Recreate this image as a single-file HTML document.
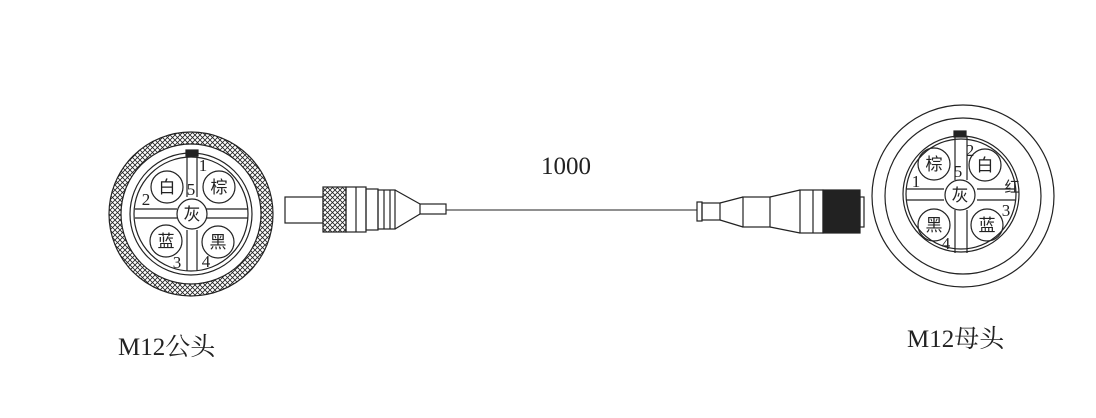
<!DOCTYPE html>
<html><head><style>body{margin:0;background:#fff}svg{display:block}</style></head><body>
<svg width="1096" height="418" viewBox="0 0 1096 418" xmlns="http://www.w3.org/2000/svg" font-family="Liberation Serif, Noto Serif CJK SC, serif">
<defs>
<pattern id="h" width="5" height="5" patternUnits="userSpaceOnUse">
<rect width="5" height="5" fill="#fff"/>
<path d="M0,0L5,5M5,0L0,5" stroke="#222" stroke-width="0.8"/>
</pattern>
</defs>
<g stroke="#222" stroke-width="1.2" fill="none">
<circle cx="191" cy="214" r="82" fill="url(#h)"/>
<circle cx="191" cy="214" r="70" fill="#fff"/>
<circle cx="191" cy="214" r="61"/>
<circle cx="191" cy="214" r="57"/>
<rect x="186" y="150" width="12" height="6" fill="#222"/>
<path d="M187,156V197M197,156V197M187,230V271M197,230V271"/>
<path d="M135,209H177M135,218H177M206,209H248M206,218H248"/>
<circle cx="192" cy="214" r="15" fill="#fff"/>
<circle cx="167" cy="187" r="16"/><circle cx="219" cy="187" r="16"/>
<circle cx="166" cy="241" r="16"/><circle cx="218" cy="242" r="16"/>
<rect x="285" y="197" width="38" height="26" fill="#fff"/>
<rect x="323" y="187" width="23" height="45" fill="url(#h)"/>
<rect x="346" y="187" width="20" height="45"/>
<path d="M356,187V232"/>
<rect x="366" y="189" width="12" height="41"/>
<rect x="378" y="190" width="17" height="39"/>
<path d="M384,190V229M390,190V229"/>
<path d="M395,190L420,204M395,229L420,214"/>
<rect x="420" y="204" width="26" height="10"/>
<path d="M446,210H697" stroke-width="1"/>
<rect x="697" y="202" width="5" height="19"/>
<rect x="702" y="203" width="18" height="17"/>
<path d="M720,203L743,197M720,220L743,227"/>
<rect x="743" y="197" width="27" height="30"/>
<path d="M770,197L800,190M770,227L800,233"/>
<rect x="800" y="190" width="23" height="43"/>
<path d="M813,190V233"/>
<rect x="823" y="190" width="37" height="43" fill="#222"/>
<rect x="860" y="197" width="4" height="30"/>
<circle cx="963" cy="196" r="91"/>
<circle cx="963" cy="196" r="78"/>
<circle cx="961" cy="194" r="58"/>
<circle cx="961" cy="194" r="55"/>
<rect x="954" y="131" width="12" height="6" fill="#222"/>
<path d="M955,137V180M967,137V180M955,210V253M967,210V253"/>
<path d="M906,189H944M906,200H944M977,189H1015M977,200H1015"/>
<circle cx="960" cy="195" r="15" fill="#fff"/>
<circle cx="934" cy="164" r="16"/><circle cx="985" cy="165" r="16"/>
<circle cx="934" cy="225" r="16"/><circle cx="987" cy="225" r="16"/>
</g>
<g fill="#222" font-family="Liberation Sans, Noto Sans CJK SC, sans-serif" font-size="17" text-anchor="middle">
<text x="167" y="193">白</text><text x="219" y="193">棕</text><text x="192" y="220">灰</text>
<text x="166" y="247">蓝</text><text x="218" y="248">黑</text>
<text x="934" y="170">棕</text><text x="985" y="171">白</text><text x="960" y="201">灰</text>
<text x="934" y="231">黑</text><text x="987" y="231">蓝</text>
<text x="1012" y="192" font-size="15">红</text>
</g>
<g fill="#222" font-size="17" text-anchor="middle">
<text x="203" y="171">1</text><text x="146" y="205">2</text><text x="191" y="195">5</text>
<text x="177" y="268">3</text><text x="206" y="267">4</text>
<text x="970" y="156">2</text><text x="916" y="187">1</text><text x="958" y="177">5</text>
<text x="1006" y="216">3</text><text x="946" y="249">4</text>
</g>
<text x="566" y="174" font-size="25" text-anchor="middle" fill="#222">1000</text>
<text x="118" y="355" font-size="25" fill="#222">M12公头</text>
<text x="907" y="347" font-size="25" fill="#222">M12母头</text>
</svg>
</body></html>
